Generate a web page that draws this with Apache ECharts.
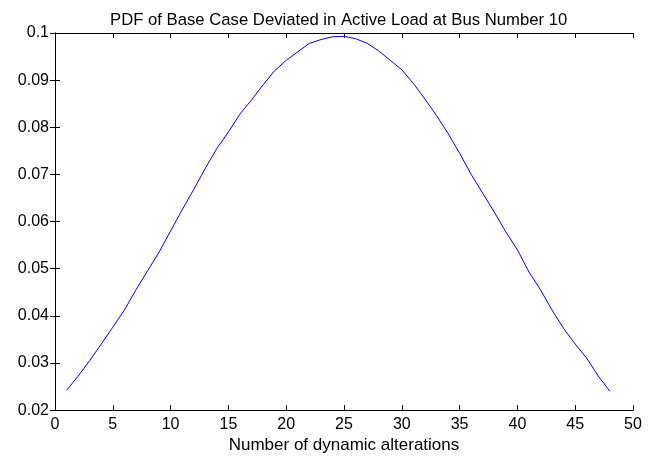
<!DOCTYPE html>
<html>
<head>
<meta charset="utf-8">
<script src="https://cdn.jsdelivr.net/npm/echarts@6/dist/echarts.min.js"></script>
<style>html,body{margin:0;padding:0;background:#fff;}#c{width:658px;height:459px;}</style>
</head>
<body>
<div id="c"></div>
<script>
const titleText = 'PDF of Base Case Deviated in Active Load at Bus Number 10';
const xAxisName = 'Number of dynamic alterations';
const xValues = [1,2,3,4,5,6,7,8,9,10,11,12,13,14,15,16,17,18,19,20,21,22,23,24,25,26,27,28,29,30,31,32,33,34,35,36,37,38,39,40,41,42,43,44,45,46,47,48];
const pdfValues = [0.0242,0.0272,0.0305,0.0340,0.0376,0.0412,0.0455,0.0495,0.0535,0.0580,0.0625,0.0668,0.0713,0.0755,0.0790,0.0828,0.0858,0.0890,0.0920,0.0942,0.0960,0.0978,0.0986,0.0992,0.0993,0.0988,0.0978,0.0962,0.0942,0.0922,0.0893,0.0860,0.0825,0.0787,0.0745,0.0700,0.0660,0.0620,0.0578,0.0540,0.0493,0.0455,0.0412,0.0373,0.0340,0.0310,0.0272,0.0240];
const yTickLabels = ['0.02','0.03','0.04','0.05','0.06','0.07','0.08','0.09','0.1'];

const font = '"Liberation Sans", Arial, sans-serif';
const chart = echarts.init(document.getElementById('c'));
const data = xValues.map((x, i) => [x, pdfValues[i]]);
const tickStyle = {show: true, inside: true, length: 5, lineStyle: {color: '#000', width: 1}};
const lineStyle = {show: true, lineStyle: {color: '#000', width: 1}};
chart.setOption({
  animation: false,
  backgroundColor: '#fff',
  title: {
    text: titleText, left: 105, top: 7,
    textStyle: {fontFamily: font, fontSize: 16.7, fontWeight: 'normal', color: '#000'}
  },
  grid: {left: 55, right: 25, top: 33, bottom: 43, containLabel: false},
  xAxis: [
    {type: 'value', min: 0, max: 50, interval: 5, position: 'bottom',
     name: xAxisName, nameLocation: 'middle', nameGap: 24,
     nameTextStyle: {fontFamily: font, fontSize: 17, color: '#000'},
     axisLine: lineStyle, axisTick: tickStyle, splitLine: {show: false},
     axisLabel: {fontFamily: font, fontSize: 16, color: '#000', margin: 6}},
    {type: 'value', min: 0, max: 50, interval: 5, position: 'top',
     axisLine: lineStyle, axisTick: tickStyle, splitLine: {show: false},
     axisLabel: {show: false}}
  ],
  yAxis: [
    {type: 'value', min: 0.02, max: 0.1, interval: 0.01, position: 'left',
     axisLine: lineStyle, axisTick: tickStyle, splitLine: {show: false},
     axisLabel: {fontFamily: font, fontSize: 16, color: '#000', margin: 6,
       formatter: (v) => { const i = Math.round((v - 0.02) / 0.01); return yTickLabels[i] ?? ''; }}},
    {type: 'value', min: 0.02, max: 0.1, interval: 0.01, position: 'right',
     axisLine: lineStyle, axisTick: tickStyle, splitLine: {show: false},
     axisLabel: {show: false}}
  ],
  series: [{
    type: 'line', data: data, xAxisIndex: 0, yAxisIndex: 0,
    showSymbol: false, smooth: false,
    lineStyle: {color: '#0000ff', width: 1}
  }]
});
</script>
</body>
</html>
